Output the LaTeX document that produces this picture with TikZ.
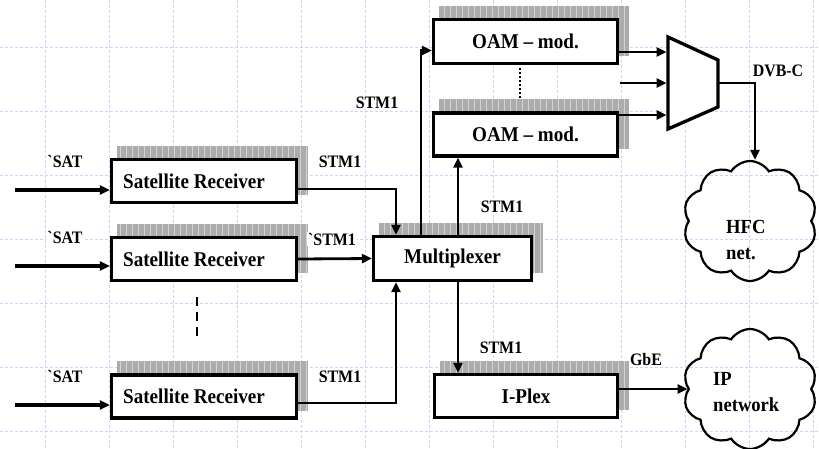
\documentclass[tikz,border=0pt]{standalone}
\usepackage{fontspec}
\usepackage{graphicx}
\newfontfamily\tnr{Liberation Serif}
\usetikzlibrary{arrows.meta,calc,backgrounds,shapes.symbols}
\definecolor{gridblue}{RGB}{200,212,250}
\definecolor{shgray}{RGB}{172,172,172}
\definecolor{shline}{RGB}{210,210,210}
\newcommand{\sqb}[1]{\scalebox{0.91}[1]{#1}}
\newcommand{\sql}[1]{\scalebox{0.91}[1]{#1}}
\newcommand{\sqc}[2]{\scalebox{0.93}[1]{\begin{tabular}{@{}l@{}}#1\\[-1pt]#2\end{tabular}}}
\tikzset{
  blk/.style={draw=black, line width=3.3pt, fill=white, inner sep=0pt,
    font=\tnr\bfseries\fontsize{21}{23}\selectfont},
  lbl/.style={font=\tnr\bfseries\fontsize{17.5}{19}\selectfont, inner sep=1pt, fill=white},
  conn/.style={line width=2.8pt, -{Triangle[length=10pt,width=9pt]}},
  netcloud/.style={cloud, cloud puffs=10, cloud puff arc=115, draw, line width=2.2pt,
    minimum width=134pt, minimum height=120pt, aspect=1.1},
  cltext/.style={font=\tnr\bfseries\fontsize{20}{27}\selectfont, inner sep=0pt},
  gridln/.style={gridblue, line width=1pt, dash pattern=on 3pt off 2pt},
  shgrid/.style={shline, line width=0.5pt}
}
\newcommand{\shadowof}[1]{%
  \begin{scope}[on background layer]
    \fill[shgray] ($(#1.south west)+(7,-9)$) rectangle ($(#1.north east)+(10,-12)$);
    \begin{scope}
      \clip ($(#1.south west)+(7,-9)$) rectangle ($(#1.north east)+(10,-12)$);
      \draw[shgrid, step=6] ($(#1.south west)+(7,-9)$) grid ($(#1.north east)+(10,-12)$);
    \end{scope}
  \end{scope}}
\begin{document}
\begin{tikzpicture}[x=1pt,y=-1pt]
\useasboundingbox (0,0) rectangle (819,448);
% background grid
\begin{scope}[on background layer]
  \foreach \gx in {45,109,...,813} \draw[gridln] (\gx,0) -- (\gx,448);
  \foreach \gy in {47,111,...,431} \draw[gridln] (0,\gy) -- (819,\gy);
\end{scope}

% column coordinates
\coordinate (c396) at (396,0);
\coordinate (c421) at (421,0);
\coordinate (c458) at (458,0);
\coordinate (c755) at (755,0);

% blocks
\node[blk, minimum width=185pt, minimum height=43pt] (sr1) at (204,181) {\sqb{Satellite Receiver}\hspace*{20pt}};
\node[blk, minimum width=185pt, minimum height=43pt] (sr2) at (204,259) {\sqb{Satellite Receiver}\hspace*{20pt}};
\node[blk, minimum width=185pt, minimum height=43pt] (sr3) at (204,396.5) {\sqb{Satellite Receiver}\hspace*{20pt}};
\node[blk, minimum width=158pt, minimum height=44pt] (mux) at (452.5,258.5) {\sqb{Multiplexer}};
\node[blk, minimum width=184pt, minimum height=44pt] (oam1) at (525.5,41.5) {\sqb{OAM – mod.}};
\node[blk, minimum width=184pt, minimum height=43pt] (oam2) at (525.5,134.5) {\sqb{OAM – mod.}};
\node[blk, minimum width=183pt, minimum height=43pt] (ipl) at (526,396) {\sqb{I-Plex}};
\shadowof{sr1}
\shadowof{sr2}
\shadowof{sr3}
\shadowof{mux}
\shadowof{oam1}
\shadowof{oam2}
\shadowof{ipl}

% combiner trapezoid
\coordinate (t1) at (668,37);
\coordinate (t2) at (718,60);
\coordinate (t3) at (718,107);
\coordinate (t4) at (668,129);
\begin{scope}[on background layer, shift={(8,-11)}]
  \fill[shgray] (t1) -- (t2) -- (t3) -- (t4) -- cycle;
  \begin{scope}
    \clip (t1) -- (t2) -- (t3) -- (t4) -- cycle;
    \draw[shgrid, step=6] (660,20) grid (730,140);
  \end{scope}
\end{scope}
\draw[line width=3.3pt, fill=white, line join=miter] (t1) -- (t2) -- (t3) -- (t4) -- cycle;

% clouds
\node[netcloud] (hfc) at (750,221) {};
\node[netcloud] (ipcl) at (750,389) {};
\node[cltext, anchor=north west] (hfct) at (726,214) {\sqc{HFC}{net.}};
\node[cltext, anchor=north west] (ipt) at (713,366) {\sqc{IP}{network}};

% inputs
\coordinate (s1) at (15,190);
\coordinate (s2) at (15,266);
\coordinate (s3) at (15,405);
\draw[conn, line width=3.3pt] (s1) -- (sr1.west |- s1);
\draw[conn, line width=3.3pt] (s2) -- (sr2.west |- s2);
\draw[conn, line width=3.3pt] (s3) -- (sr3.west |- s3);

% receivers to multiplexer
\draw[conn] ($(sr1.east)+(0,8)$) -| (mux.north -| c396);
\draw[conn] (sr2.east) -- (mux.west);
\draw[conn] ($(sr3.east)+(0,6.5)$) -| (mux.south -| c396);

% multiplexer to modulators and I-Plex
\draw[conn] (mux.north -| c421) |- ($(oam1.west)+(0,9)$);
\draw[conn] (mux.north -| c458) -- (oam2.south -| c458);
\draw[conn] (mux.south -| c458) -- (ipl.north -| c458);

% modulators to combiner
\coordinate (m1) at (666.5,52);
\coordinate (m2) at (666.5,83);
\coordinate (m3) at (666.5,115);
\coordinate (m2s) at (620,83);
\draw[conn] (oam1.east |- m1) -- (m1);
\draw[conn] (m2s) -- (m2);
\draw[conn] (oam2.east |- m3) -- (m3);
\coordinate (tout) at (718,83);
\draw[conn] (tout) -| (hfc.north -| c755);

% I-Plex to IP network
\coordinate (g1) at ($(ipl.east)+(0,-7)$);
\draw[conn] (g1) -- (ipcl.west |- g1);

% dashed / dotted continuations
\coordinate (d1) at (197,297);
\coordinate (d2) at (197,342);
\draw[line width=2.8pt, dash pattern=on 9pt off 6pt] (d1) -- (d2);
\coordinate (e1) at (520,68);
\coordinate (e2) at (520,99);
\draw[line width=2.2pt, dash pattern=on 2pt off 2pt] (e1) -- (e2);

% labels
\node[lbl] (la1) at (65,161) {\sql{`SAT}};
\node[lbl] (la2) at (65,237) {\sql{`SAT}};
\node[lbl] (la3) at (65,376) {\sql{`SAT}};
\node[lbl] (lb1) at (340,162) {\sql{STM1}};
\node[lbl] (lb2) at (332,239) {\sql{`STM1}};
\node[lbl] (lb3) at (340,377) {\sql{STM1}};
\node[lbl] (lc1) at (377,103) {\sql{STM1}};
\node[lbl] (lc2) at (502,207) {\sql{STM1}};
\node[lbl] (lc3) at (501,348) {\sql{STM1}};
\node[lbl] (ld) at (778,71) {\sql{DVB-C}};
\node[lbl] (lg) at (646,360) {\sql{GbE}};
\end{tikzpicture}
\end{document}
